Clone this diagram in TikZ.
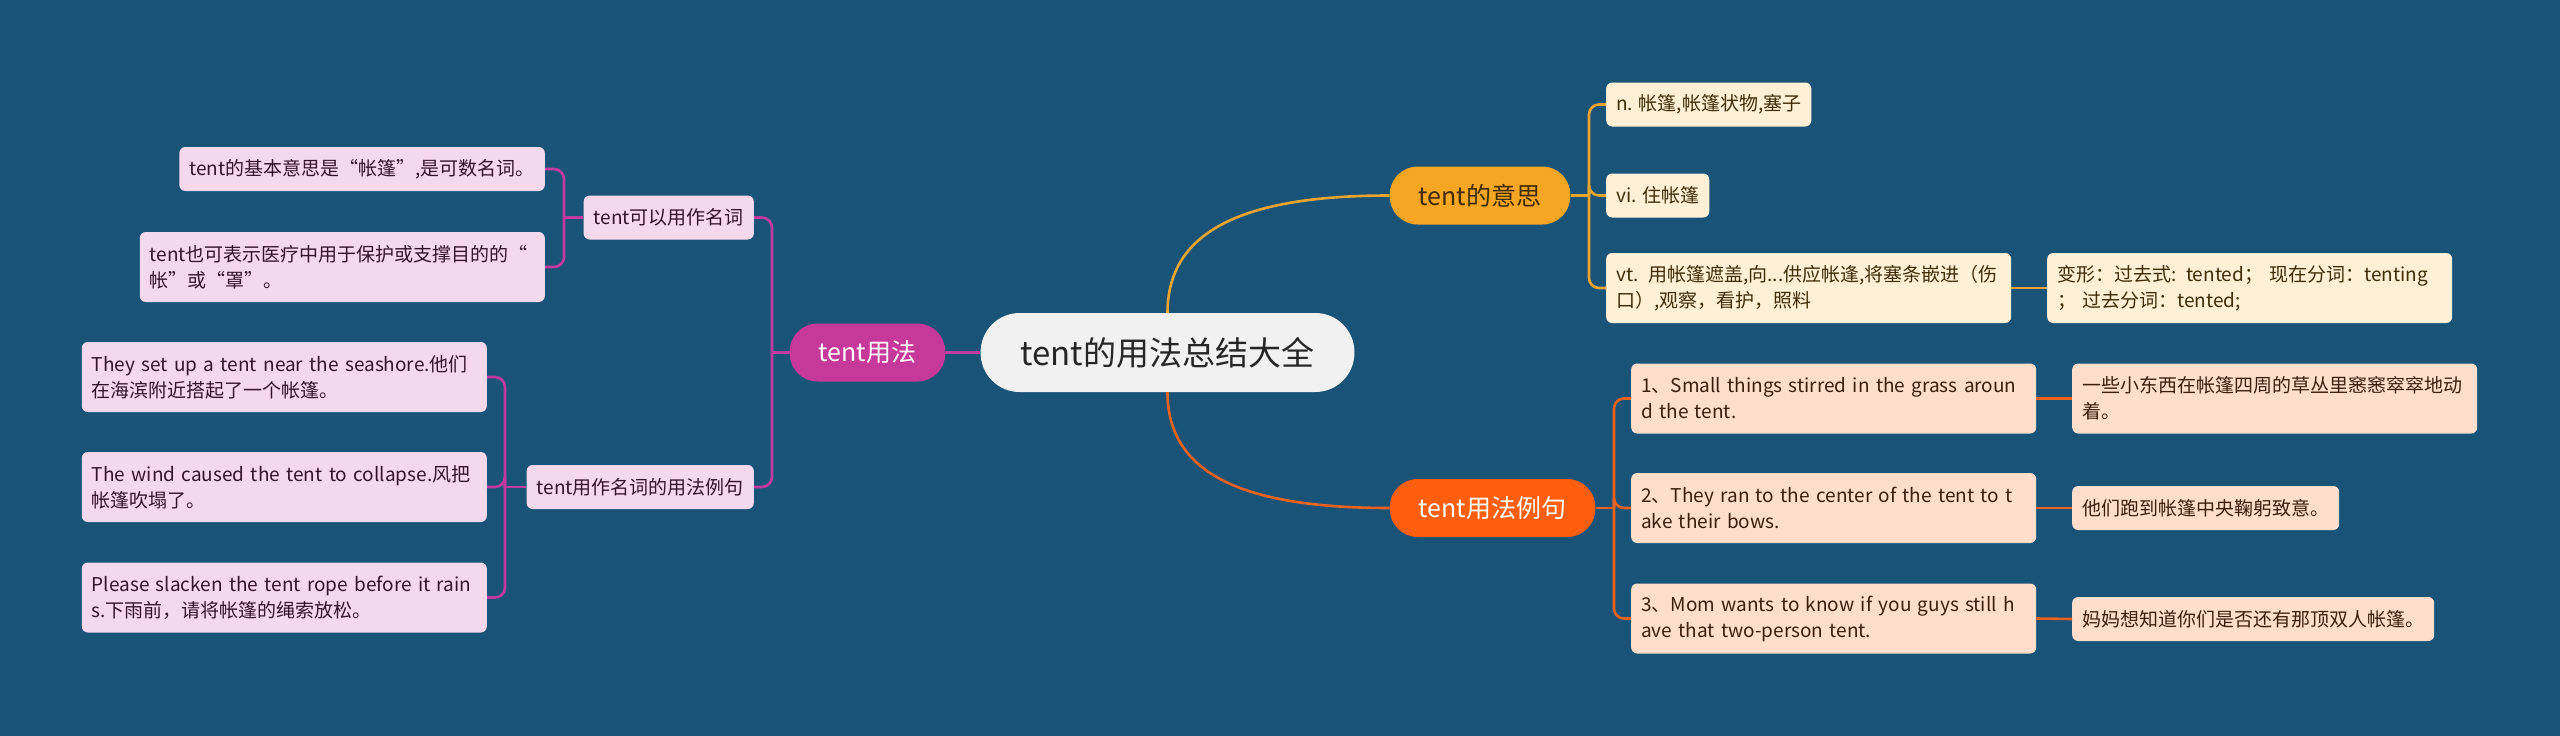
\documentclass[tikz,border=0pt]{standalone}
\usepackage{fontspec}
\setmainfont{Noto Sans CJK SC}
\usetikzlibrary{positioning, calc}

\definecolor{bgblue}{RGB}{26,83,120}
\definecolor{rootfill}{RGB}{241,241,241}
\definecolor{usefill}{RGB}{198,56,154}
\definecolor{uselight}{RGB}{246,216,236}
\definecolor{useline}{RGB}{194,58,160}
\definecolor{usetext}{RGB}{52,20,42}
\definecolor{meanfill}{RGB}{246,166,35}
\definecolor{meanlight}{RGB}{255,240,214}
\definecolor{meanline}{RGB}{234,165,46}
\definecolor{meantext}{RGB}{66,44,8}
\definecolor{exfill}{RGB}{255,94,12}
\definecolor{exlight}{RGB}{255,223,204}
\definecolor{exline}{RGB}{234,98,30}
\definecolor{extext}{RGB}{60,30,12}

\begin{document}
\begin{tikzpicture}[x=100pt, y=-100pt,
    pill/.style={rectangle, rounded corners=28pt, minimum height=58pt, inner xsep=29pt, font=\fontsize{25}{30}\selectfont},
    leaf/.style={rectangle, rounded corners=6pt, minimum height=44pt, inner xsep=10pt, inner ysep=4pt, align=left, font=\fontsize{19}{26}\selectfont},
    twoline/.style={text width=385pt, minimum height=70pt},
    link/.style={line width=2.6pt, rounded corners=10pt}]

    \useasboundingbox (0, 0) rectangle (25.6, 7.36);
    \fill[bgblue] (0, 0) rectangle (25.6, 7.36);

    % Root
    \node[pill, fill=rootfill, text=black!85, inner xsep=40pt, minimum height=79pt, rounded corners=39pt, font=\fontsize{33}{38}\selectfont] (root) at (11.675, 3.525) {tent的用法总结大全};

    % Left side: tent用法
    \node[pill, fill=usefill, text=white] (tentUse) at (8.675, 3.525) {tent用法};
    \coordinate (useFork) at (7.72, 3.525);

    \node[leaf, fill=uselight, text=usetext, anchor=east] (nounUse) at (7.54, 2.175) {tent可以用作名词};
    \coordinate (nounUseFork) at (5.64, 2.175);
    \node[leaf, fill=uselight, text=usetext, anchor=east] (lA) at (5.45, 1.69) {tent的基本意思是“帐篷”,是可数名词。};
    \node[leaf, twoline, fill=uselight, text=usetext, anchor=east] (lB) at (5.45, 2.67) {tent也可表示医疗中用于保护或支撑目的的“\\帐”或“罩”。};

    \node[leaf, fill=uselight, text=usetext, anchor=east] (nounEx) at (7.54, 4.87) {tent用作名词的用法例句};
    \coordinate (nounExFork) at (5.05, 4.87);
    \node[leaf, twoline, fill=uselight, text=usetext, anchor=east] (lC) at (4.87, 3.77) {They set up a tent near the seashore.他们\\在海滨附近搭起了一个帐篷。};
    \node[leaf, twoline, fill=uselight, text=usetext, anchor=east] (lD) at (4.87, 4.87) {The wind caused the tent to collapse.风把\\帐篷吹塌了。};
    \node[leaf, twoline, fill=uselight, text=usetext, anchor=east] (lE) at (4.87, 5.975) {Please slacken the tent rope before it rain\\s.下雨前，请将帐篷的绳索放松。};

    % Right side: tent的意思
    \node[pill, fill=meanfill, text=meantext] (tentMean) at (14.80, 1.955) {tent的意思};
    \coordinate (meanFork) at (15.89, 1.955);
    \node[leaf, fill=meanlight, text=meantext, anchor=west] (rA) at (16.06, 1.045) {n. 帐篷,帐篷状物,塞子};
    \node[leaf, fill=meanlight, text=meantext, anchor=west] (rB) at (16.06, 1.955) {vi. 住帐篷};
    \node[leaf, twoline, fill=meanlight, text=meantext, anchor=west] (rC) at (16.06, 2.88) {vt. 用帐篷遮盖,向...供应帐逢,将塞条嵌进（伤\\口）,观察，看护，照料};
    \node[leaf, twoline, fill=meanlight, text=meantext, anchor=west] (rD) at (20.47, 2.88) {变形：过去式: tented；  现在分词：tenting\\；  过去分词：tented;};

    % Right side: tent用法例句
    \node[pill, fill=exfill, text=white] (tentEx) at (14.925, 5.08) {tent用法例句};
    \coordinate (exFork) at (16.14, 5.08);
    \node[leaf, twoline, fill=exlight, text=extext, anchor=west] (eA) at (16.31, 3.985) {1、Small things stirred in the grass aroun\\d the tent.};
    \node[leaf, twoline, fill=exlight, text=extext, anchor=west] (eB) at (16.31, 5.08) {2、They ran to the center of the tent to t\\ake their bows.};
    \node[leaf, twoline, fill=exlight, text=extext, anchor=west] (eC) at (16.31, 6.185) {3、Mom wants to know if you guys still h\\ave that two-person tent.};
    \node[leaf, twoline, fill=exlight, text=extext, anchor=west] (fA) at (20.72, 3.985) {一些小东西在帐篷四周的草丛里窸窸窣窣地动\\着。};
    \node[leaf, fill=exlight, text=extext, anchor=west] (fB) at (20.72, 5.08) {他们跑到帐篷中央鞠躬致意。};
    \node[leaf, fill=exlight, text=extext, anchor=west] (fC) at (20.72, 6.19) {妈妈想知道你们是否还有那顶双人帐篷。};

    % Connectors
    \draw[link, useline] (root.west) -- (tentUse.east);
    \draw[link, useline] (tentUse.west) -- (useFork);
    \draw[link, useline] (useFork) |- (nounUse.east);
    \draw[link, useline] (useFork) |- (nounEx.east);
    \draw[link, useline] (nounUse.west) -- (nounUseFork);
    \draw[link, useline] (nounUseFork) |- (lA.east);
    \draw[link, useline] (nounUseFork) |- (lB.east);
    \draw[link, useline] (nounEx.west) -- (nounExFork);
    \draw[link, useline] (nounExFork) |- (lC.east);
    \draw[link, useline] (nounExFork) |- (lD.east);
    \draw[link, useline] (nounExFork) |- (lE.east);

    \draw[link, meanline] (root.north) .. controls (11.675, 2.3) and (12.45, 1.955) .. (tentMean.west);
    \draw[link, meanline] (tentMean.east) -- (meanFork);
    \draw[link, meanline] (meanFork) |- (rA.west);
    \draw[link, meanline] (meanFork) |- (rB.west);
    \draw[link, meanline] (meanFork) |- (rC.west);
    \draw[link, meanline] (rC.east) -- (rD.west);

    \draw[link, exline] (root.south) .. controls (11.675, 4.75) and (12.45, 5.08) .. (tentEx.west);
    \draw[link, exline] (tentEx.east) -- (exFork);
    \draw[link, exline] (exFork) |- (eA.west);
    \draw[link, exline] (exFork) |- (eB.west);
    \draw[link, exline] (exFork) |- (eC.west);
    \draw[link, exline] (eA.east) -- (fA.west);
    \draw[link, exline] (eB.east) -- (fB.west);
    \draw[link, exline] (eC.east) -- (fC.west);

\end{tikzpicture}
\end{document}
